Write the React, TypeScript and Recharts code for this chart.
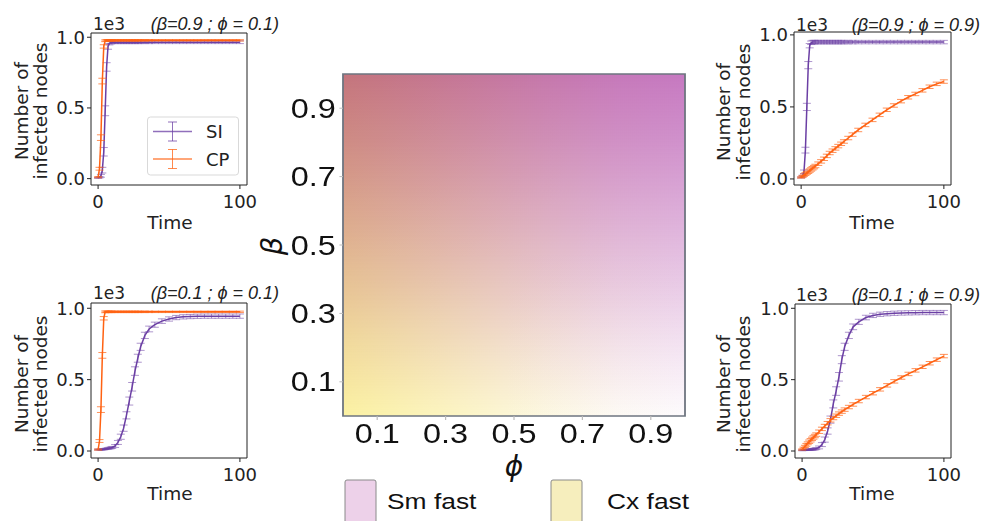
import React from "react"
import { LineChart, Line, XAxis, YAxis, ErrorBar, ReferenceArea, ComposedChart } from "recharts"

// time steps (shared by every small panel)
const TIME = [0, 1, 2, 3, 4, 5, 6, 7, 8, 9, 10, 12, 14, 16, 18, 20, 22, 24, 26, 28, 30, 33, 36, 40, 45, 50, 55, 60, 65, 70, 75, 80, 85, 90, 95, 100]

// beta = 0.9 ; phi = 0.1  (values in 1e3 infected nodes)
const TL_SI = [0.005, 0.01, 0.02, 0.06, 0.19, 0.48, 0.79, 0.935, 0.958, 0.963, 0.965, 0.965, 0.965, 0.965, 0.965, 0.965, 0.965, 0.965, 0.965, 0.965, 0.965, 0.965, 0.965, 0.965, 0.965, 0.965, 0.965, 0.965, 0.965, 0.965, 0.965, 0.965, 0.965, 0.965, 0.965, 0.965]
const TL_SI_ERR = [0.003, 0.005, 0.01, 0.02, 0.03, 0.035, 0.03, 0.02, 0.012, 0.01, 0.01, 0.01, 0.01, 0.01, 0.01, 0.01, 0.01, 0.01, 0.01, 0.01, 0.01, 0.01, 0.01, 0.01, 0.01, 0.01, 0.01, 0.01, 0.01, 0.01, 0.01, 0.01, 0.01, 0.01, 0.01, 0.01]
const TL_CP = [0.01, 0.07, 0.29, 0.69, 0.935, 0.975, 0.978, 0.978, 0.978, 0.978, 0.978, 0.978, 0.978, 0.978, 0.978, 0.978, 0.978, 0.978, 0.978, 0.978, 0.978, 0.978, 0.978, 0.978, 0.978, 0.978, 0.978, 0.978, 0.978, 0.978, 0.978, 0.978, 0.978, 0.978, 0.978, 0.978]
const TL_CP_ERR = [0.004, 0.01, 0.02, 0.02, 0.012, 0.006, 0.005, 0.005, 0.005, 0.005, 0.005, 0.005, 0.005, 0.005, 0.005, 0.005, 0.005, 0.005, 0.005, 0.005, 0.005, 0.005, 0.005, 0.005, 0.005, 0.005, 0.005, 0.005, 0.005, 0.005, 0.005, 0.005, 0.005, 0.005, 0.005, 0.005]

// beta = 0.9 ; phi = 0.9
const TR_SI = [0.01, 0.02, 0.05, 0.2, 0.5, 0.79, 0.925, 0.945, 0.95, 0.95, 0.95, 0.95, 0.95, 0.95, 0.95, 0.95, 0.95, 0.95, 0.95, 0.95, 0.95, 0.95, 0.95, 0.95, 0.95, 0.95, 0.95, 0.95, 0.95, 0.95, 0.95, 0.95, 0.95, 0.95, 0.95, 0.95]
const TR_SI_ERR = [0.004, 0.006, 0.012, 0.02, 0.025, 0.025, 0.015, 0.012, 0.012, 0.012, 0.012, 0.012, 0.012, 0.012, 0.012, 0.012, 0.012, 0.012, 0.012, 0.012, 0.012, 0.012, 0.012, 0.012, 0.012, 0.012, 0.012, 0.012, 0.012, 0.012, 0.012, 0.012, 0.012, 0.012, 0.012, 0.012]
const TR_CP = [0.01, 0.018, 0.026, 0.034, 0.042, 0.05, 0.058, 0.066, 0.074, 0.082, 0.09, 0.106, 0.122, 0.14, 0.16, 0.18, 0.196, 0.212, 0.228, 0.244, 0.26, 0.284, 0.308, 0.34, 0.375, 0.41, 0.445, 0.48, 0.51, 0.54, 0.567, 0.59, 0.615, 0.64, 0.66, 0.676]
const TR_CP_ERR = [0.004, 0.006, 0.008, 0.01, 0.01, 0.012, 0.012, 0.012, 0.012, 0.012, 0.012, 0.012, 0.012, 0.012, 0.012, 0.012, 0.012, 0.012, 0.012, 0.012, 0.012, 0.012, 0.012, 0.012, 0.012, 0.012, 0.012, 0.012, 0.012, 0.012, 0.012, 0.012, 0.012, 0.012, 0.012, 0.012]

// beta = 0.1 ; phi = 0.1
const BL_SI = [0.01, 0.01, 0.01, 0.01, 0.012, 0.014, 0.016, 0.018, 0.02, 0.022, 0.025, 0.035, 0.06, 0.1, 0.16, 0.25, 0.35, 0.45, 0.56, 0.65, 0.73, 0.81, 0.855, 0.885, 0.91, 0.925, 0.935, 0.94, 0.942, 0.944, 0.945, 0.945, 0.945, 0.945, 0.945, 0.945]
const BL_SI_ERR = [0.003, 0.003, 0.003, 0.003, 0.004, 0.004, 0.005, 0.005, 0.006, 0.006, 0.007, 0.01, 0.014, 0.018, 0.022, 0.025, 0.028, 0.03, 0.03, 0.028, 0.025, 0.022, 0.02, 0.018, 0.016, 0.015, 0.015, 0.015, 0.015, 0.015, 0.015, 0.015, 0.015, 0.015, 0.015, 0.015]
const BL_CP = [0.01, 0.07, 0.29, 0.67, 0.93, 0.975, 0.975, 0.975, 0.975, 0.975, 0.975, 0.975, 0.975, 0.975, 0.975, 0.975, 0.975, 0.975, 0.975, 0.975, 0.975, 0.975, 0.975, 0.975, 0.975, 0.975, 0.975, 0.975, 0.975, 0.975, 0.975, 0.975, 0.975, 0.975, 0.975, 0.975]
const BL_CP_ERR = [0.004, 0.01, 0.02, 0.02, 0.012, 0.006, 0.005, 0.005, 0.005, 0.005, 0.005, 0.005, 0.005, 0.005, 0.005, 0.005, 0.005, 0.005, 0.005, 0.005, 0.005, 0.005, 0.005, 0.005, 0.005, 0.005, 0.005, 0.005, 0.005, 0.005, 0.005, 0.005, 0.005, 0.005, 0.005, 0.005]

// beta = 0.1 ; phi = 0.9
const BR_SI = [0.005, 0.006, 0.007, 0.008, 0.009, 0.01, 0.01, 0.011, 0.012, 0.014, 0.017, 0.025, 0.045, 0.08, 0.14, 0.22, 0.33, 0.42, 0.52, 0.64, 0.73, 0.81, 0.87, 0.905, 0.935, 0.95, 0.958, 0.962, 0.965, 0.967, 0.968, 0.969, 0.97, 0.97, 0.97, 0.97]
const BR_SI_ERR = [0.003, 0.003, 0.003, 0.003, 0.004, 0.004, 0.005, 0.005, 0.006, 0.006, 0.007, 0.01, 0.014, 0.018, 0.022, 0.025, 0.028, 0.03, 0.03, 0.028, 0.025, 0.022, 0.02, 0.018, 0.016, 0.015, 0.015, 0.015, 0.015, 0.015, 0.015, 0.015, 0.015, 0.015, 0.015, 0.015]
const BR_CP = [0.01, 0.021, 0.032, 0.043, 0.054, 0.065, 0.075, 0.085, 0.095, 0.105, 0.115, 0.135, 0.155, 0.175, 0.195, 0.215, 0.231, 0.247, 0.262, 0.276, 0.29, 0.308, 0.326, 0.35, 0.378, 0.405, 0.432, 0.46, 0.488, 0.515, 0.54, 0.565, 0.59, 0.615, 0.64, 0.665]
const BR_CP_ERR = [0.004, 0.006, 0.008, 0.01, 0.01, 0.012, 0.012, 0.012, 0.012, 0.012, 0.012, 0.012, 0.012, 0.012, 0.012, 0.012, 0.012, 0.012, 0.012, 0.012, 0.012, 0.012, 0.012, 0.012, 0.012, 0.012, 0.012, 0.012, 0.012, 0.012, 0.012, 0.012, 0.012, 0.012, 0.012, 0.012]

const X_TICKS = [0, 100]
const Y_TICKS = [0, 0.5, 1]

// heatmap: gradient stops
const PHI_TICKS = [0.1, 0.3, 0.5, 0.7, 0.9]
const BETA_TICKS = [0.1, 0.3, 0.5, 0.7, 0.9]
const PHI_STOPS = [0, 0.2, 0.4, 0.6, 0.8, 1]
const CX_FAST = [1, 0.78, 0.54, 0.3, 0.1, 0]
const BETA_STOPS = [0, 0.2, 0.4, 0.6, 0.8, 1]
const SM_FAST = [0.03, 0.2, 0.4, 0.6, 0.8, 0.98]

const SI_COLOR = "#6b3fa4"
const CP_COLOR = "#ff6212"
const SM_COLOR = "#c576c0"
const CX_COLOR = "#fdf6a4"
const S = 1.2 // horizontal stretch of the heatmap block

const panelTick = { fontSize: 18, fill: "#222", fontFamily: "DejaVu Sans" }

function Panel({ left, top, w, h, yDomain, si, siErr, cp, cpErr }: any) {
  const data = TIME.map((t, i) => ({ t, si: si[i], siErr: siErr[i], cp: cp[i], cpErr: cpErr[i] }))
  return (
    <div style={{ position: "absolute", left: left - 60, top: top - 8 }}>
      <LineChart width={60 + w + 24} height={8 + h + 30} data={data} margin={{ top: 8, right: 24, bottom: 0, left: 0 }}>
        <XAxis dataKey="t" type="number" domain={[-5, 105]} ticks={X_TICKS} allowDataOverflow height={30}
          tickSize={4} tickMargin={6} axisLine={false} tickLine={{ stroke: "#222" }} tick={panelTick} />
        <YAxis type="number" domain={yDomain} ticks={Y_TICKS} allowDataOverflow width={60}
          tickSize={4} tickMargin={2} axisLine={false} tickLine={{ stroke: "#222" }} tick={panelTick}
          tickFormatter={(v: number) => v.toFixed(1)} />
        <ReferenceArea x1={-5} x2={105} y1={yDomain[0]} y2={yDomain[1]} fill="none" stroke="#222" strokeWidth={1} ifOverflow="visible" />
        <Line dataKey="si" stroke={SI_COLOR} strokeWidth={1.5} dot={false} isAnimationActive={false}>
          <ErrorBar dataKey="siErr" width={4} stroke={SI_COLOR} strokeOpacity={0.55} strokeWidth={1} isAnimationActive={false} />
        </Line>
        <Line dataKey="cp" stroke={CP_COLOR} strokeWidth={1.5} dot={false} isAnimationActive={false}>
          <ErrorBar dataKey="cpErr" width={4} stroke={CP_COLOR} strokeOpacity={0.7} strokeWidth={1} isAnimationActive={false} />
        </Line>
      </LineChart>
    </div>
  )
}

function PanelLabels({ e3x, e3y, title, titleEnd, ylx1, ylx2, yly, timeX, timeY }: any) {
  return (
    <g fontFamily="DejaVu Sans" fill="#222">
      <text x={e3x} y={e3y} fontSize={17} dominantBaseline="central">1e3</text>
      <text x={titleEnd} y={e3y} fontSize={18} fontStyle="italic" fontFamily="Liberation Sans, DejaVu Sans"
        textAnchor="end" dominantBaseline="central">{title}</text>
      <text transform={`translate(${ylx1},${yly}) rotate(-90)`} fontSize={18.5} textAnchor="middle" dominantBaseline="central">Number of</text>
      <text transform={`translate(${ylx2},${yly}) rotate(-90)`} fontSize={18.5} textAnchor="middle" dominantBaseline="central">infected nodes</text>
      <text x={timeX} y={timeY} fontSize={18.5} textAnchor="middle" dominantBaseline="central">Time</text>
    </g>
  )
}

const HeatShape = (p: any) => (
  <g>
    <defs>
      <linearGradient id="cxGrad" x1="0" y1="0" x2="1" y2="0">
        {PHI_STOPS.map((s, i) => <stop key={i} offset={s} stopColor={CX_COLOR} stopOpacity={CX_FAST[i]} />)}
      </linearGradient>
      <linearGradient id="smGrad" x1="0" y1="1" x2="0" y2="0">
        {BETA_STOPS.map((s, i) => <stop key={i} offset={s} stopColor={SM_COLOR} stopOpacity={SM_FAST[i]} />)}
      </linearGradient>
    </defs>
    <rect x={p.x} y={p.y} width={p.width} height={p.height} fill="#fff" />
    <rect x={p.x} y={p.y} width={p.width} height={p.height} fill="url(#cxGrad)" />
    <rect x={p.x} y={p.y} width={p.width} height={p.height} fill="url(#smGrad)" style={{ mixBlendMode: "multiply" }} />
    <rect x={p.x} y={p.y} width={p.width} height={p.height} fill="none" stroke="#6e7580" strokeWidth={1.5} />
  </g>
)

const heatTick = { fontSize: 27, fill: "#111", fontFamily: "Liberation Sans" }

function StretchText({ x, y, size, children, anchor }: any) {
  return (
    <text transform={`translate(${x},${y}) scale(${S},1)`} fontSize={size} fontFamily="Liberation Sans"
      fill="#111" textAnchor={anchor || "start"} dominantBaseline="central">{children}</text>
  )
}

export default function App() {
  return (
    <div style={{ position: "fixed", left: 0, top: 0, width: 984, height: 521, background: "#fff", overflow: "hidden" }}>
      <Panel left={91} top={33} w={156} h={152} yDomain={[-0.045, 1.03]} si={TL_SI} siErr={TL_SI_ERR} cp={TL_CP} cpErr={TL_CP_ERR} />
      <Panel left={794} top={32} w={157} h={153} yDomain={[-0.042, 1.02]} si={TR_SI} siErr={TR_SI_ERR} cp={TR_CP} cpErr={TR_CP_ERR} />
      <Panel left={91} top={303} w={156} h={155} yDomain={[-0.049, 1.037]} si={BL_SI} siErr={BL_SI_ERR} cp={BL_CP} cpErr={BL_CP_ERR} />
      <Panel left={795} top={304} w={156} h={154} yDomain={[-0.049, 1.03]} si={BR_SI} siErr={BR_SI_ERR} cp={BR_CP} cpErr={BR_CP_ERR} />

      <div style={{ position: "absolute", left: 250, top: 60, transform: `scaleX(${S})`, transformOrigin: "0 0" }}>
        <ComposedChart width={370} height={400} margin={{ top: 14, right: 7.5, bottom: 4, left: 0 }}>
          <XAxis type="number" dataKey="phi" domain={[0, 1]} ticks={PHI_TICKS} allowDataOverflow height={40}
            tickSize={4} tickMargin={4} axisLine={false} tickLine={{ stroke: "#bbb" }} tick={heatTick}
            tickFormatter={(v: number) => v.toFixed(1)} />
          <YAxis type="number" dataKey="beta" domain={[0, 1]} ticks={BETA_TICKS} allowDataOverflow width={77.5}
            tickSize={3} tickMargin={3} axisLine={false} tickLine={{ stroke: "#bbb" }} tick={heatTick}
            tickFormatter={(v: number) => v.toFixed(1)} />
          <ReferenceArea x1={0} x2={1} y1={0} y2={1} shape={HeatShape} ifOverflow="visible" />
        </ComposedChart>
      </div>

      <svg width={984} height={521} style={{ position: "absolute", left: 0, top: 0, pointerEvents: "none" }}>
        <PanelLabels e3x={93} e3y={24} title="(β=0.9 ; ϕ = 0.1)" titleEnd={279} ylx1={21} ylx2={40} yly={111} timeX={170} timeY={222} />
        <PanelLabels e3x={796} e3y={25} title="(β=0.9 ; ϕ = 0.9)" titleEnd={980} ylx1={723} ylx2={743} yly={112} timeX={872} timeY={222} />
        <PanelLabels e3x={93} e3y={293} title="(β=0.1 ; ϕ = 0.1)" titleEnd={279} ylx1={21} ylx2={40} yly={384} timeX={170} timeY={493} />
        <PanelLabels e3x={796} e3y={295} title="(β=0.1 ; ϕ = 0.9)" titleEnd={980} ylx1={723} ylx2={743} yly={384} timeX={872} timeY={493} />

        {/* legend of the first panel */}
        <rect x={147.5} y={117} width={91} height={58} rx={3} fill="#fff" fillOpacity={0.85} stroke="#d9d9d9" />
        {[["SI", SI_COLOR, 131.5], ["CP", CP_COLOR, 159]].map(([name, c, y]: any) => (
          <g key={name} stroke={c} strokeOpacity={0.75}>
            <line x1={153} x2={192} y1={y} y2={y} strokeWidth={1.5} />
            <line x1={172.5} x2={172.5} y1={y - 9.5} y2={y + 9.5} />
            <line x1={168} x2={177} y1={y - 9.5} y2={y - 9.5} />
            <line x1={168} x2={177} y1={y + 9.5} y2={y + 9.5} />
            <text x={206} y={y} fontSize={18} fontFamily="DejaVu Sans" fill="#222" stroke="none" dominantBaseline="central">{name}</text>
          </g>
        ))}

        {/* heatmap axis labels and legend */}
        <text transform="translate(272,246) rotate(-90)" fontSize={29} fontStyle="italic" fontFamily="DejaVu Sans"
          fill="#111" textAnchor="middle" dominantBaseline="central">β</text>
        <text x={514} y={466} fontSize={28} fontStyle="italic" fontFamily="DejaVu Sans"
          fill="#111" textAnchor="middle" dominantBaseline="central">ϕ</text>
        <rect x={345} y={480} width={31} height={60} rx={2} fill="#edd1e9" stroke="#8a8a8a" />
        <StretchText x={387} y={501} size={22}>Sm fast</StretchText>
        <rect x={551} y={480} width={31} height={60} rx={2} fill="#f6eebd" stroke="#8a8a8a" />
        <StretchText x={607} y={501} size={22}>Cx fast</StretchText>
      </svg>
    </div>
  )
}
